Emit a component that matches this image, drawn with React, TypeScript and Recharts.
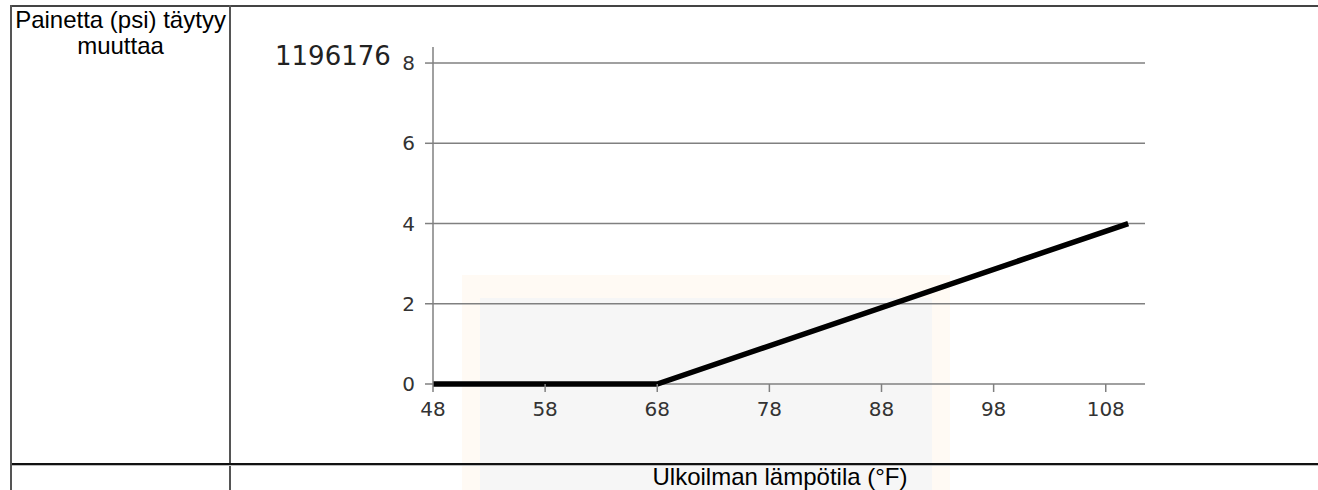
import React from 'react';
import { LineChart, Line, XAxis, YAxis, CartesianGrid } from 'recharts';

const temps = [48, 68, 110];
const psiChange = [0, 0, 4];
const xTicks = [48, 58, 68, 78, 88, 98, 108];
const yTicks = [0, 2, 4, 6, 8];
const figureId = '1196176';
const rowLabel = 'Painetta (psi) täytyy muuttaa';
const colLabel = 'Ulkoilman lämpötila (°F)';

const data = temps.map((t, i) => ({ t, p: psiChange[i] }));

const gray = '#808080';
const tickFont = '"DejaVu Sans", sans-serif';

const XTick = (props: any) => (
  <text x={props.x} y={props.y} dy="0.71em" textAnchor="middle" fontFamily={tickFont} fontSize={20} fill="#333">
    {props.payload.value}
  </text>
);

const YTick = (props: any) => (
  <text x={props.x} y={props.y} dy="0.355em" textAnchor="end" fontFamily={tickFont} fontSize={20} fill="#333">
    {props.payload.value}
  </text>
);

export default function App() {
  return (
    <div style={{ position: 'absolute', left: 0, top: 0, width: 1318, height: 490, overflow: 'hidden', background: '#fff' }}>
      {/* faint watermark background */}
      <div style={{ position: 'absolute', left: 462, top: 275, width: 488, height: 215, background: '#fffaf4' }} />
      <div style={{ position: 'absolute', left: 480, top: 298, width: 452, height: 192, background: '#f6f6f6' }} />

      {/* table borders */}
      <div style={{ position: 'absolute', left: 10, top: 5, width: 1308, height: 2, background: '#444' }} />
      <div style={{ position: 'absolute', left: 10, top: 5, width: 2, height: 485, background: '#555' }} />
      <div style={{ position: 'absolute', left: 229, top: 5, width: 2, height: 485, background: '#555' }} />
      <div style={{ position: 'absolute', left: 12, top: 463, width: 1306, height: 2, background: '#111' }} />
      <div style={{ position: 'absolute', left: 12, top: 465, width: 1306, height: 1, background: '#bbb' }} />

      {/* left header cell */}
      <div style={{ position: 'absolute', left: 12, top: 7, width: 217, textAlign: 'center', fontFamily: '"Liberation Sans", Arial, sans-serif', fontSize: 24, lineHeight: '26px', color: '#000' }}>
        {rowLabel}
      </div>

      {/* bottom header */}
      <div style={{ position: 'absolute', left: 231, top: 463, width: 1098, textAlign: 'center', fontFamily: '"Liberation Sans", Arial, sans-serif', fontSize: 24, lineHeight: '27px', color: '#000' }}>
        {colLabel}
      </div>

      {/* figure id */}
      <svg style={{ position: 'absolute', left: 232, top: 8 }} width={200} height={80}>
        <text x={43} y={57} fontFamily={tickFont} fontSize={26} fill="#222">{figureId}</text>
      </svg>

      <div style={{ position: 'absolute', left: 232, top: 8 }}>
        <LineChart width={1086} height={454} data={data} margin={{ top: 39, right: 173, bottom: 38, left: 141 }}>
          <CartesianGrid horizontal vertical={false} stroke={gray} strokeWidth={1.5} syncWithTicks />
          <XAxis
            type="number"
            dataKey="t"
            domain={[48, 111.5]}
            ticks={xTicks}
            height={40}
            tickSize={8}
            tickMargin={10}
            axisLine={false}
            tickLine={{ stroke: gray, strokeWidth: 1.5 }}
            tick={<XTick />}
            interval={0}
          />
          <YAxis
            type="number"
            domain={[0, 8.4]}
            ticks={yTicks}
            width={60}
            tickSize={8}
            tickMargin={10}
            axisLine={{ stroke: gray, strokeWidth: 1.5 }}
            tickLine={{ stroke: gray, strokeWidth: 1.5 }}
            tick={<YTick />}
            interval={0}
          />
          <Line type="linear" dataKey="p" stroke="#000" strokeWidth={5.5} dot={false} isAnimationActive={false} />
        </LineChart>
      </div>
    </div>
  );
}
